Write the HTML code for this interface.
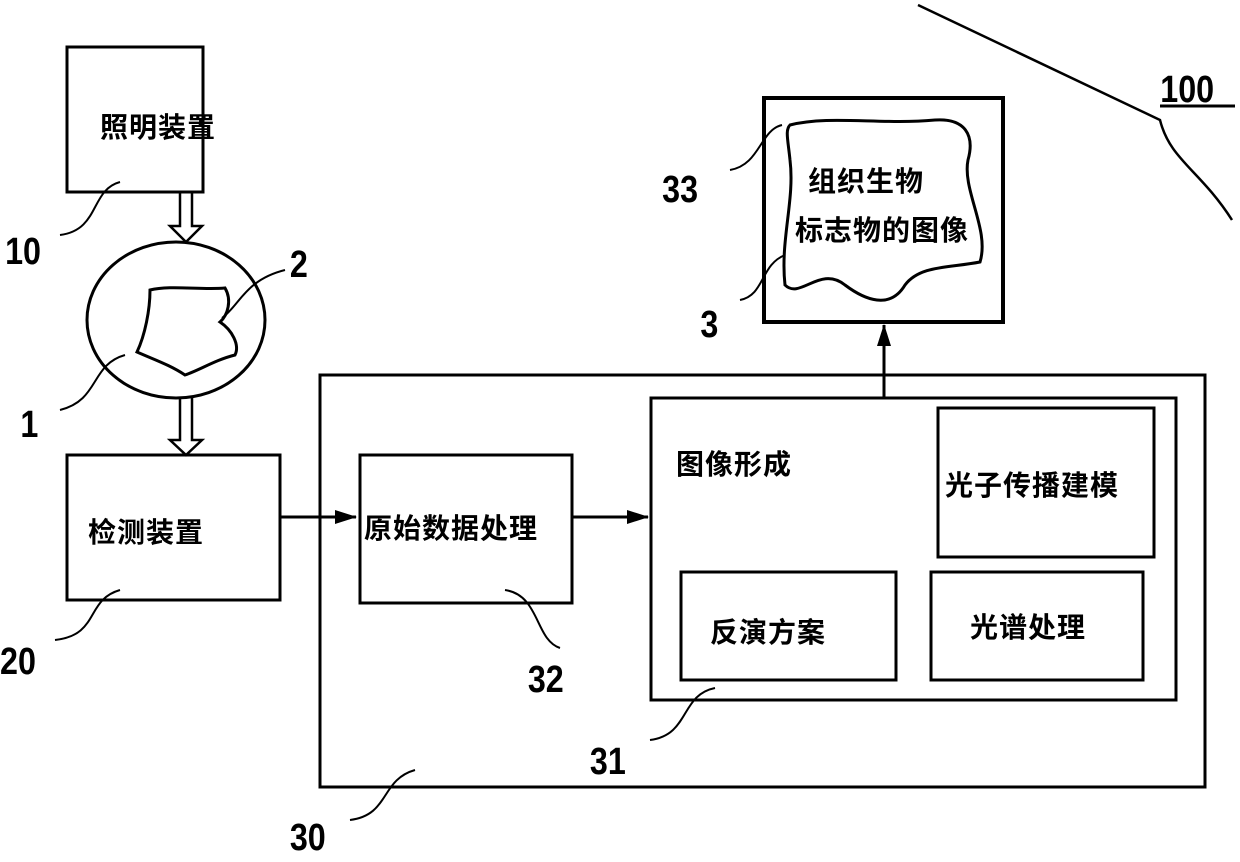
<!DOCTYPE html>
<html><head><meta charset="utf-8"><style>
body{margin:0;background:#fff}
text{font-family:"Liberation Sans","Noto Sans CJK SC",sans-serif;font-weight:bold;fill:#000}
.cn{font-size:28px;letter-spacing:1px}
.num{font-size:38px}
</style></head><body>
<svg width="1240" height="857" viewBox="0 0 1240 857" xmlns="http://www.w3.org/2000/svg">
<defs>
<marker id="a2" markerWidth="22" markerHeight="14" refX="21" refY="7" orient="auto" markerUnits="userSpaceOnUse"><path d="M0,0 L22,7 L0,14 z"/></marker></defs>
<g fill="none" stroke="#000" stroke-width="3">
<rect x="67" y="47" width="136" height="145"/>
<ellipse cx="176" cy="320" rx="89" ry="78"/>
<path d="M150,290 C170,285 200,290 225,288 C232,300 228,315 220,322 C232,330 240,345 235,355 C215,360 200,370 185,375 C170,365 155,360 137,352 C145,335 150,310 150,290 Z"/>
<rect x="67" y="455" width="213" height="145"/>
<rect x="320" y="375" width="885" height="412"/>
<rect x="360" y="455" width="212" height="148"/>
<rect x="651" y="398" width="525" height="302"/>
<rect x="938" y="408" width="216" height="149"/>
<rect x="681" y="572" width="215" height="108"/>
<rect x="931" y="572" width="212" height="108"/>
<rect x="764" y="98" width="239" height="224" stroke-width="4"/>
<path d="M790,125 C830,115 880,125 935,120 C965,118 975,135 968,160 C962,190 990,230 980,262 C950,268 920,265 905,285 C890,310 865,300 845,285 C820,265 800,300 785,285 C780,240 795,200 790,160 C788,140 785,130 790,125 Z"/>
<path d="M180,192 V226 H170 L186,242 L202,226 H192 V192" stroke-width="2.5"/>
<path d="M180,398 V440 H170 L186,455 L202,440 H192 V398" stroke-width="2.5"/>
<line x1="280" y1="517" x2="356" y2="517" marker-end="url(#a2)"/>
<line x1="572" y1="517" x2="648" y2="517" marker-end="url(#a2)"/>
<line x1="884" y1="398" x2="884" y2="325" marker-end="url(#a2)"/>
<path d="M120,182 C90,190 100,230 60,235" stroke-width="2"/>
<path d="M125,355 C90,365 100,400 60,410" stroke-width="2"/>
<path d="M222,318 C240,305 245,280 285,270" stroke-width="2"/>
<path d="M120,590 C85,600 100,635 55,640" stroke-width="2"/>
<path d="M505,590 C540,595 535,640 560,648" stroke-width="2"/>
<path d="M715,688 C680,695 690,735 650,740" stroke-width="2"/>
<path d="M415,770 C380,780 390,815 350,820" stroke-width="2"/>
<path d="M782,125 C760,130 760,165 730,170" stroke-width="2"/>
<path d="M785,255 C760,265 765,295 740,300" stroke-width="2"/>
<path d="M918,5 L1160,120 C1170,160 1200,170 1232,220" stroke-width="2.5"/>
</g>
<text class="cn" x="100" y="137">照明装置</text>
<text class="cn" x="88" y="542">检测装置</text>
<text class="cn" x="364" y="538">原始数据处理</text>
<text class="cn" x="676" y="474">图像形成</text>
<text class="cn" x="945" y="495">光子传播建模</text>
<text class="cn" x="710" y="642">反演方案</text>
<text class="cn" x="970" y="637">光谱处理</text>
<text class="cn" x="808" y="191">组织生物</text>
<text class="cn" x="795" y="240">标志物的图像</text>
<g transform="scale(0.85,1)">
<text class="num" x="6" y="264">10</text>
<text class="num" x="24" y="437">1</text>
<text class="num" x="341" y="277">2</text>
<text class="num" x="0" y="674">20</text>
<text class="num" x="621" y="692">32</text>
<text class="num" x="694" y="774">31</text>
<text class="num" x="341" y="850">30</text>
<text class="num" x="779" y="202">33</text>
<text class="num" x="824" y="337">3</text>
<text class="num" x="1365" y="102">100</text>
</g>
<line x1="1160" y1="106" x2="1235" y2="106" stroke="#000" stroke-width="3"/>
</svg>
</body></html>
